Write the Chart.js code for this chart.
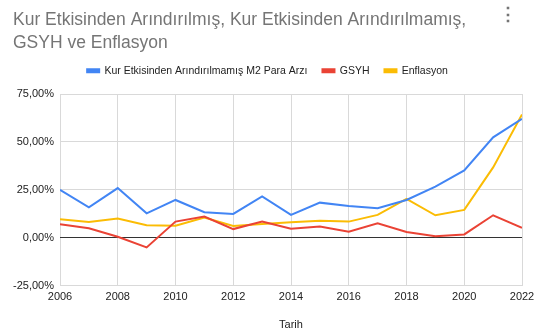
<!DOCTYPE html>
<html>
<head>
<meta charset="utf-8">
<script src="https://cdn.jsdelivr.net/npm/chart.js@4"></script>
<style>
  html, body { margin: 0; padding: 0; background: #fff; }
  #wrap { position: relative; width: 542px; height: 330px; }
  #menu { position: absolute; left: 499px; top: 3px; font: bold 18px Arial, sans-serif; color: #757575; }
</style>
</head>
<body>
<div id="wrap">
  <canvas id="chart" width="542" height="330"></canvas>
  <div id="menu">&#8942;</div>
</div>
<script>
const years = [2006, 2007, 2008, 2009, 2010, 2011, 2012, 2013, 2014, 2015, 2016, 2017, 2018, 2019, 2020, 2021, 2022];
const m2Values = [25.0, 15.9, 25.9, 12.7, 19.7, 13.3, 12.4, 21.5, 11.9, 18.3, 16.6, 15.4, 19.7, 26.7, 35.1, 52.4, 62.0];
const gsyhValues = [7.0, 4.9, 0.5, -5.1, 8.4, 11.0, 4.5, 8.4, 4.7, 5.9, 3.1, 7.5, 3.0, 0.7, 1.7, 11.7, 5.2];
const inflationValues = [9.6, 8.2, 10.0, 6.5, 6.3, 10.5, 6.1, 7.2, 8.0, 8.8, 8.4, 11.9, 20.3, 11.7, 14.5, 36.7, 64.3];
const xTicks = [2006, 2008, 2010, 2012, 2014, 2016, 2018, 2020, 2022];
const yTicks = [-25, 0, 25, 50, 75];

const toPoints = (vals) => vals.map((v, i) => ({ x: years[i], y: v }));
const fmtPct = (v) => v.toFixed(2).replace('.', ',') + '%';

const lineDataset = (label, vals, color) => ({
    label: label,
    data: toPoints(vals),
    borderColor: color,
    backgroundColor: color,
    borderWidth: 2,
    pointRadius: 0,
    tension: 0
});

// a bit of extra room under the legend
const legendGap = {
    id: 'legendGap',
    beforeInit(chart) {
        const origFit = chart.legend.fit;
        chart.legend.fit = function () {
            origFit.bind(chart.legend)();
            this.height += 8;
        };
    }
};

new Chart(document.getElementById('chart').getContext('2d'), {
    type: 'line',
    data: {
        datasets: [
            lineDataset('Kur Etkisinden Arındırılmamış M2 Para Arzı', m2Values, '#4285F4'),
            lineDataset('GSYH', gsyhValues, '#EA4335'),
            lineDataset('Enflasyon', inflationValues, '#FBBC04')
        ]
    },
    plugins: [legendGap],
    options: {
        responsive: false,
        animation: false,
        layout: { padding: { left: 13, right: 20, top: 9, bottom: 0 } },
        plugins: {
            title: {
                display: true,
                text: ['Kur Etkisinden Arındırılmış, Kur Etkisinden Arındırılmamış,', 'GSYH ve Enflasyon'],
                align: 'start',
                color: '#757575',
                font: { family: 'Arial', size: 17.5, weight: 'normal', lineHeight: 1.3 },
                padding: { top: 0, bottom: -4 }
            },
            legend: {
                display: true,
                labels: {
                    boxWidth: 12,
                    boxHeight: 3,
                    color: '#222',
                    font: { family: 'Arial', size: 10.5 },
                    padding: 15
                }
            },
            tooltip: { enabled: false }
        },
        scales: {
            x: {
                type: 'linear',
                min: 2006,
                max: 2022,
                afterBuildTicks: (axis) => { axis.ticks = xTicks.map(v => ({ value: v })); },
                ticks: {
                    color: '#222',
                    font: { family: 'Arial', size: 11 },
                    maxRotation: 0,
                    padding: 5,
                    callback: (v) => String(v)
                },
                grid: { color: '#d9d9d9', drawTicks: false },
                border: { display: false },
                title: {
                    display: true,
                    text: 'Tarih',
                    color: '#222',
                    font: { family: 'Arial', size: 11 },
                    padding: { top: 10, bottom: -2 }
                }
            },
            y: {
                min: -25,
                max: 75,
                afterBuildTicks: (axis) => { axis.ticks = yTicks.map(v => ({ value: v })); },
                afterFit: (axis) => { axis.width = 47; },
                ticks: {
                    color: '#222',
                    font: { family: 'Arial', size: 11 },
                    padding: 6,
                    callback: (v) => fmtPct(v)
                },
                grid: {
                    color: (ctx) => ctx.tick && ctx.tick.value === 0 ? '#333' : '#d9d9d9',
                    drawTicks: false
                },
                border: { display: false }
            }
        }
    }
});
</script>
</body>
</html>
